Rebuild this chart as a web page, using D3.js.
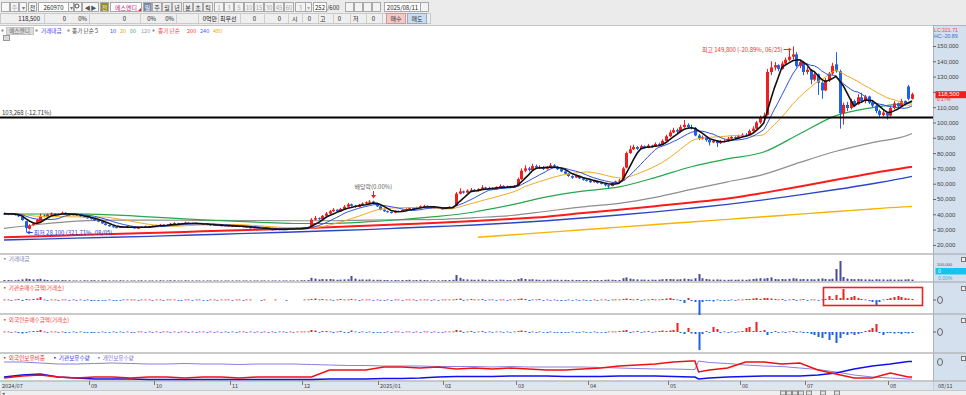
<!DOCTYPE html>
<html>
<head>
<meta charset="utf-8">
<script src="https://cdn.jsdelivr.net/npm/d3@7"></script>
<style>
  body { margin: 0; background: #fff; overflow: hidden; }
  svg { display: block; font-family: "Noto Sans CJK KR", "Noto Sans", sans-serif; }
  .num { font-family: "Liberation Sans", "DejaVu Sans", sans-serif; }
</style>
</head>
<body>
<svg id="chart" width="966" height="395"></svg>
<script>
// 에스엔디 (260970) 일봉, 2024/07 ~ 2025/08/11

// ---- price data (won), one value per trading day ----
const opens = [
  40500,40200,39700,40300,39400,38500,35500,30500,33000,34200,35000,39200,38600,39800,40400,39700,40200,41000,40300,39500,40000,39200,38700,38000,
  37500,37000,36000,35300,34000,33000,32200,31600,31200,31800,31500,32000,31400,31000,31300,31800,32200,31900,
  32400,32800,33200,32600,33000,33800,34200,33500,34000,34500,33800,34300,33600,33900,33200,33500,32800,33100,32500,32800,32300,
  32600,32000,32400,31800,32100,31500,31000,31400,30800,30500,30900,30200,29800,30300,29900,30600,30200,30800,30400,31000,
  30600,31200,31800,36500,37500,36800,39000,40500,42000,43000,41800,43500,45000,46500,45500,44800,46200,47000,47800,48300,47300,
  45200,43000,42000,41500,41000,42200,41800,42800,43500,44000,43600,44500,45200,45500,45000,44200,44600,43800,
  43500,44200,44800,45500,53500,55000,54200,55500,56000,55200,56500,57500,56800,57200,56500,57800,58500,57600,58200,57500,
  58500,63000,68500,70000,69000,71500,70500,71000,69800,70600,72000,71200,69500,68000,66500,65000,64000,65200,63500,62500,
  62000,61000,61800,60500,60000,59000,58500,60500,61500,62000,70500,80000,82500,84000,82800,84500,83500,85000,84200,86000,85200,88000,
  91000,93500,95000,94000,97000,98500,97000,96500,91500,89500,90500,88500,87000,88000,86500,87500,88000,89500,90500,89800,
  91000,92000,91500,94500,96000,100000,103000,105000,133000,136000,137500,135000,138500,141000,143000,144500,137000,139500,
  133000,134500,128000,131500,126000,121000,127500,132000,138000,133500,106000,111500,109500,114000,112000,116500,114000,117000,113000,111000,107500,105000,106500,
  104500,109500,112500,110500,114000,123500,115500
]
const highs = [
  41000,40600,40900,40500,39600,38700,35800,33500,34800,37000,40500,40000,40300,41200,40800,40700,41800,41300,40600,40400,40200,39500,39000,38300,
  37900,37200,36300,35500,34200,33300,32500,31900,32200,32000,32400,32200,31600,31600,32100,32600,32400,32700,
  33200,33700,33400,33400,34300,34800,34400,34400,35200,34700,34600,34500,34200,34000,33800,33600,33400,33200,33100,33000,32900,
  32700,32700,32500,32400,32200,31700,31700,31500,31000,31200,31000,30400,30600,30400,30900,30700,31100,30900,31300,31100,
  31500,32000,37500,39000,38000,39500,41500,42800,44000,43300,44200,46000,47500,47000,46000,46800,47800,48500,49300,48800,47500,
  45400,43300,42500,41800,42600,42500,43200,44000,44600,44300,45000,45800,46200,45800,45200,45000,44800,44100,
  44600,45200,45500,54500,57000,55500,56300,57200,56500,57000,59000,58000,58000,57600,58300,59500,59000,58800,58600,59200,
  64000,70000,72000,71000,73000,72500,72000,71500,71500,73500,72800,71500,70000,68500,67000,65500,66000,65500,64000,63000,
  62500,62500,62000,61000,60300,59500,61000,62000,63000,71000,81000,85000,85500,84500,85500,85000,86000,85500,87000,86800,89000,92000,
  95000,96500,96000,98500,101600,99500,98500,97000,92500,91500,91000,89000,89000,88500,88500,89000,90500,91500,91000,92000,
  93000,93000,95500,97500,101000,104500,106500,135000,140000,139500,138000,140000,142500,147000,149800,146000,141000,140000,
  136500,135000,133000,132000,127000,129000,133000,139000,146000,134500,113000,113500,115500,115000,118500,119500,118000,117500,114000,111500,108500,108000,107000,
  110500,114000,113000,115500,114500,124500,119500
]
const lows = [
  39800,39400,39500,39200,38200,35800,28100,30000,32500,34000,34800,38000,38300,39500,39300,39400,40000,40000,39200,39200,38900,38300,37700,37200,
  36600,35700,34900,33800,32700,31900,31300,30900,31000,31200,31300,31100,30700,30800,31100,31600,31700,31700,
  32200,32600,32400,32400,32900,33600,33300,33300,33800,33600,33600,33400,33400,33000,33000,32600,32600,32300,32300,32100,32100,
  31800,31800,31600,31600,31300,30800,30800,30600,30200,30300,30000,29500,29600,29600,29700,30000,30000,30200,30200,30400,
  30400,31000,31600,36000,36300,36600,38700,40200,41500,41300,41600,43300,44800,45000,44300,44500,45900,46700,47500,47000,44800,
  42600,41600,41000,40500,40800,41500,41600,42600,43200,43300,43400,44300,44900,44700,43900,44000,43500,43200,
  43300,44000,44500,45300,53000,53500,54000,55000,54800,55000,56200,56300,56500,56000,56300,57500,57200,57300,57000,57300,
  58300,62500,67500,68000,68500,70000,69800,69000,69300,70200,70500,69000,67500,66000,64500,63200,63800,63000,62000,61500,
  60500,60700,60000,59500,58200,56800,58300,60200,61200,61800,70000,79500,82000,82000,82500,83000,83200,83500,84000,84800,85000,87500,
  90500,93000,93000,93500,96500,96000,95500,91000,88500,88800,87500,85000,86500,84000,86000,87000,87500,89000,89000,89500,
  90500,90800,91200,94000,95500,99000,102000,104500,131000,134000,133500,134500,137500,140000,141000,136000,135500,131000,
  131500,125000,127000,118000,115500,120500,126500,131000,132500,96000,98500,107500,108500,110500,111500,113000,112500,112000,109500,106000,103000,104000,102000,
  104000,108500,109500,110000,111000,114500,115000
]
const closes = [
  40200,39800,40500,39500,38800,36200,31000,32500,34000,36500,39000,38500,39800,40500,39600,40200,41000,40300,39500,40000,39200,38600,38000,37500,
  37000,36000,35200,34000,33000,32200,31600,31200,31800,31500,32000,31400,31000,31300,31800,32200,31900,32400,
  32800,33200,32600,33000,33800,34200,33500,34000,34500,33800,34300,33600,33900,33200,33500,32800,33100,32500,32800,32300,32600,
  32000,32400,31800,32100,31500,31000,31400,30800,30500,30900,30200,29800,30300,29900,30600,30200,30800,30400,31000,30600,
  31200,31500,36500,37500,36800,39000,40500,42000,43000,41800,43500,45000,46500,45500,44800,46200,47000,47800,48300,47500,45200,
  43000,42000,41500,41000,42200,41800,42800,43500,44000,43600,44500,45200,45500,45000,44200,44600,43800,43500,
  44200,44800,45000,53500,55000,54200,55500,56000,55200,56500,57500,56800,57200,56500,57800,58500,57600,58200,57500,58500,
  63000,68500,70000,69000,71500,70500,71000,69800,70600,72000,71200,69500,68000,66500,65000,64000,65200,63500,62500,62000,
  61000,61800,60500,60000,59000,58500,60500,61500,62000,70000,80000,82500,84000,82800,84500,83500,85000,84200,86000,85200,88000,91000,
  93500,95000,94000,97000,98500,97000,96500,91500,89500,90500,88500,87000,88000,86500,87500,88000,89500,90500,89800,91000,
  92000,91500,94500,96000,100000,103000,104500,133000,136000,137500,135000,138500,141000,143000,144500,137000,139500,133000,
  134500,128000,131500,126000,121000,127500,132000,137000,133500,106000,111500,109500,114000,112000,116500,114000,117000,113000,111000,107500,105000,106500,104500,
  109500,112500,110500,114000,112000,115500,118500
]
// closes before the first visible day (for the short moving averages)
const priorCloses = [41000,40500,40800,41200,40600,40200,39800,40300,40900,41300,40700,40200,40600,41000,40400,40000,40600,40900,40500]

// long moving averages, read every 10 days off the chart
const maDays = [0,10,20,30,40,50,60,70,80,90,100,110,120,130,140,150,160,170,180,190,200,210,220,230,240,250,251]
const ma60  = [40000,40200,40300,39600,38300,37000,35800,34800,34000,34000,35000,36600,38600,41500,46000,51400,55100,57900,64000,71100,76200,80700,92700,104500,109700,112700,112900]
const ma120 = [30800,33500,35500,36200,36200,36100,36000,35900,35800,35800,36200,36400,36700,37800,39200,42000,44900,47200,51100,56300,61200,66100,73900,81200,86900,91800,92800]
const ma200 = [25000,25700,26400,27100,27800,28500,29200,29900,30700,31500,32500,33500,34500,35600,36900,38400,40800,43000,45300,47700,50300,54000,58100,62600,66900,70700,71100]
const ma240 = [23200,23800,24400,25000,25600,26300,27000,27700,28400,29200,30000,31000,32000,33000,34300,35800,37600,39500,41600,44000,46500,49400,52700,56200,60000,64300,64800]
const ma480Days = [131,140,150,160,170,180,190,200,210,220,230,240,250,251]
const ma480 = [25000,26500,28200,29900,31600,33300,35000,36700,38400,40100,41800,43500,45000,45100]

// 거래대금 (억원)
const amounts = [
  5,5,4,4,6,8,12,10,8,9,11,7,5,5,4,4,5,4,4,3,3,3,4,3,
  4,4,3,4,4,3,3,3,4,3,3,3,3,3,4,3,3,3,
  3,4,3,3,4,4,3,3,4,3,3,3,3,3,3,3,3,3,3,3,3,
  3,3,3,3,3,3,3,3,3,3,3,3,3,3,3,3,3,3,3,4,
  4,5,16,12,8,10,9,10,8,6,7,8,9,25,12,7,8,7,8,6,6,
  6,5,5,4,5,4,5,5,6,4,5,6,5,4,4,4,4,4,
  5,5,6,30,16,9,8,7,6,7,8,6,6,5,6,7,6,5,5,6,
  10,14,10,8,9,7,6,6,6,7,6,6,6,6,5,6,5,5,5,5,
  5,5,5,5,6,7,6,5,5,14,18,12,9,8,7,7,6,7,6,7,9,10,
  10,9,8,9,12,10,8,14,35,14,10,8,7,8,7,6,6,7,6,7,
  7,6,8,10,12,14,12,15,18,10,9,10,9,11,14,12,9,10,
  9,9,8,11,13,10,9,11,60,100,20,12,10,9,10,9,8,8,7,9,8,8,7,
  8,7,7,7,8,9,7
]
// 기관 순매수금액 (억원)
const instNet = [
  0.5,0.5,-0.5,0.5,1,-1,1,0.5,1,1.5,3,0.5,-0.5,0.5,0.5,-0.5,0.5,0.5,-0.5,0.5,-0.5,0.5,-0.5,0.5,
  -1,-0.5,-1,-0.5,-0.5,0.5,-0.5,-0.5,-0.5,0.5,0.5,0.5,0.5,-0.5,0.5,0.5,0.5,-0.5,
  0.5,0.5,-0.5,0.5,0.5,0.5,-0.5,-0.5,0.5,0.5,-0.5,0.5,0.5,-0.5,-0.5,0.5,0.5,-0.5,0.5,0.5,0.5,
  -0.5,0.5,0.5,-0.5,0.5,0.5,0,0,-0.5,0.5,0,0,0.5,0,0,-0.5,0,0,0,0,
  0.5,0.5,1,1.5,0.5,1,0.5,0.5,-0.5,0.5,1,0.5,0.5,1,0.5,-0.5,0.5,0.5,0.5,-0.5,0.5,
  -0.5,-0.5,0.5,-0.5,0.5,0.5,-0.5,0.5,0.5,0.5,-0.5,0.5,0.5,0.5,-0.5,0.5,-0.5,0.5,
  0.5,0.5,0.5,1,1.5,-0.5,0.5,1,0.5,0.5,1,-0.5,0.5,0.5,-0.5,0.5,0.5,-0.5,0.5,0.5,
  1,1.5,1,-1,0.5,0.5,1,-0.5,0.5,-0.5,0.5,-0.5,-1,-0.5,0.5,-0.5,0.5,-0.5,0.5,-0.5,
  -0.5,0.5,-0.5,0.5,0.5,-0.5,0.5,0.5,0.5,1,1.5,1,0.5,1,-0.5,0.5,0.5,1,0.5,0.5,1,1.5,
  2,1,0.5,-1,-3,2,-1,-2,-15,-2,-1,-1,-1.5,0.5,-0.5,-1,-0.5,0.5,-0.5,0.5,
  0.5,1,1,1.5,2,1,2,2,1.5,1,0.5,1,-0.5,0.5,1,-0.5,0.5,1,
  -0.5,0.5,0.5,-0.5,0.5,1,4,1,5,2,11,2,3,4,2,1,0.5,-1,-2,-6,-2,0.5,1,
  2,3,4,3,2,1.5,1
]
// 외국인 순매수금액 (억원)
const foreignNet = [
  0.5,0.5,-0.5,0.5,-1,-1.5,-1,0.5,1,1,2,0.5,-0.5,0.5,0.5,-0.5,0.5,-1,-0.5,0.5,-0.5,0.5,-0.5,-0.5,
  -1,-0.5,-0.5,0.5,-0.5,-0.5,0.5,-0.5,0.5,-0.5,0.5,-0.5,-0.5,0.5,0.5,-0.5,0.5,-0.5,
  0.5,-0.5,0.5,0.5,-0.5,0.5,-0.5,0.5,0.5,-0.5,0.5,-0.5,0.5,0.5,-0.5,0.5,-0.5,0.5,-0.5,0.5,-0.5,
  0.5,-0.5,0.5,0.5,-0.5,0.5,-0.5,0.5,-0.5,0.5,-0.5,0.5,-0.5,0.5,0.5,-0.5,0.5,-0.5,0.5,0.5,
  0.5,0.5,2,1.5,-0.5,1,1,0.5,-1,0.5,1,-0.5,-1,1.5,0.5,-0.5,0.5,-0.5,0.5,-1,-0.5,
  -0.5,-0.5,0.5,-0.5,0.5,0.5,-0.5,0.5,0.5,-0.5,0.5,-0.5,0.5,0.5,-0.5,0.5,-0.5,-0.5,
  0.5,0.5,0.5,2,1.5,-0.5,0.5,1,-0.5,0.5,1,-0.5,0.5,-0.5,0.5,0.5,-0.5,0.5,-0.5,0.5,
  1,1.5,1,-1,0.5,-0.5,0.5,-0.5,-1,0.5,-0.5,-0.5,-1,-0.5,-0.5,0.5,-0.5,-0.5,0.5,-0.5,
  -0.5,0.5,-0.5,-0.5,-1,0.5,0.5,0.5,1,1.5,2,-1,0.5,1,-0.5,0.5,1,-0.5,0.5,1,1.5,1,
  1.5,2,9,-1,-2,4,-1.5,-2,-18,-2,1,-0.5,5,3,-1,0.5,-0.5,0.5,-0.5,0.5,
  1,4,5,1,10,1,2,-3,-1,1,-0.5,0.5,-1,0.5,1,-0.5,0.5,-1,
  -1,-2,-3,-5,-6,-2,-8,-3,-11,-6,-2,-3,-1.5,-3,-2,-1,1,2,4,8,-1,-3,-1,
  -1,-1.5,-1,-2,-1,-1.5,-1
]

// holdings, read every 5 days
const holdDays = [0,5,10,15,20,25,30,35,40,45,50,55,60,65,70,75,80,85,90,95,100,105,110,115,120,125,130,135,140,145,150,155,160,165,170,175,180,185,190,191,192,195,200,205,210,215,220,225,230,235,240,245,250,251]
const foreignRatio = [1.2,1.4,1.5,1.3,1.2,1.3,1.3,1.2,1.3,1.3,1.2,1.3,1.3,1.2,1.3,1.3,1.3,1.3,2.0,2.0,2.0,2.3,2.3,2.2,2.3,2.1,2.2,2.1,2.2,2.1,2.0,2.0,2.1,2.2,2.4,2.5,2.6,2.8,2.9,2.9,1.8,2.0,2.2,2.8,2.8,2.6,2.7,2.0,1.6,1.2,1.2,1.7,1.3,1.3]
const instHold = [400,600,700,400,300,200,200,200,150,150,150,150,150,150,150,150,150,150,200,200,200,250,250,300,400,450,450,450,500,500,500,450,450,450,500,500,500,450,400,400,200,300,400,450,500,500,500,600,800,1200,1500,1700,1950,1950]
const indivHold = [13.8,13.8,13.6,13.4,13.4,13.5,13.6,13.5,13.4,13.4,13.5,13.4,13.4,13.3,13.4,13.4,13.4,13.3,13.2,13.1,13.1,13.0,13.0,13.0,12.9,12.9,12.9,12.8,12.9,12.8,12.8,12.8,12.8,12.7,12.6,12.5,12.4,12.4,12.3,12.3,14.0,13.7,13.5,13.2,13.0,12.9,12.6,12.3,11.8,11.2,10.8,10.6,10.4,10.4]

// month ticks
const monthStarts = [0,24,42,63,83,104,122,142,162,184,204,222,245]
const monthLabels = ['2024/07','09','10','11','12','2025/01','02','03','04','05','06','07','08']
// 120,000 sits under the current-price box, so it gets a tick but no label
const priceTicks = [20000,30000,40000,50000,60000,70000,80000,90000,100000,110000,120000,130000,140000,150000]

const lineLevel = 103268
const lastPrice = 118500
const lowIdx = 6, highIdx = 218, exDivIdx = 102

// ---- colors ----
var colorUp = '#f21d1d'
var colorDown = '#1f61e4'
var colorAxisBg = '#d4e0ed'

const svg = d3.select('#chart')
const W = 966, H = 395
const plotR = 933

// ---- scales ----
const x = d3.scaleLinear().domain([0, closes.length - 1]).range([4, 912])
const y = d3.scaleLinear().domain([20000, 150000]).range([244.9, 46])
const px = i => Math.round(x(i)) + 0.5

function txt(g, tx, ty, s, color, size, anchor) {
  return g.append('text').attr('x', tx).attr('y', ty).text(s)
    .attr('fill', color || '#333').attr('font-size', size || 6)
    .attr('text-anchor', anchor || 'start')
}
function box(g, bx, by, w, h, fill, stroke) {
  return g.append('rect').attr('x', bx + 0.5).attr('y', by + 0.5)
    .attr('width', w).attr('height', h)
    .attr('fill', fill).attr('stroke', stroke || 'none').attr('stroke-width', 1)
}

// ---------- header ----------
const head = svg.append('g')
box(head, -1, -1, W + 2, 26, '#ebebeb', '#c4c4c4')

const row1 = [
  ['', 1, 8, '#f7f7f7', '#666'], ['주', 10, 8, '#f7f7f7', '#aaa'], ['▾', 19, 7, '#f7f7f7', '#777'],
  ['전', 28, 8, '#f7f7f7', '#333'], ['260970', 38, 30, '#fff', '#222'], ['▾', 68, 5, '#f7f7f7', '#777'],
  ['', 74, 7, '#f7f7f7', '#666'], ['◀▶', 82, 16, '#f7f7f7', '#555'], ['전', 100, 8, '#8f8d2d', '#f5f1c4'],
  ['에스엔디', 110, 31, '#fff', '#c0287e'], ['일', 143, 8, '#7489aa', '#fff'],
  ['주', 152, 9, '#eeeeee', '#333'], ['월', 162, 9, '#eeeeee', '#333'], ['년', 172, 9, '#eeeeee', '#333'],
  ['분', 183, 9, '#eeeeee', '#333'], ['초', 193, 9, '#eeeeee', '#333'], ['틱', 203, 9, '#eeeeee', '#333'],
  ['1', 214, 9, '#f3f3f3', '#aaa'], ['3', 224, 9, '#f3f3f3', '#aaa'], ['5', 234, 9, '#f3f3f3', '#aaa'],
  ['10', 244, 9, '#f3f3f3', '#aaa'], ['15', 254, 9, '#f3f3f3', '#aaa'], ['30', 264, 9, '#f3f3f3', '#aaa'],
  ['45', 274, 9, '#f3f3f3', '#aaa'], ['60', 284, 9, '#f3f3f3', '#aaa'], ['3', 295, 10, '#f3f3f3', '#aaa'],
  ['▾', 305, 6, '#f3f3f3', '#aaa'], ['252', 313, 13, '#fff', '#222'],
  ['', 345, 8, '#f3f3f3', '#666'], ['', 354, 8, '#f3f3f3', '#666'], ['', 363, 8, '#f3f3f3', '#666'], ['', 372, 8, '#f3f3f3', '#666'],
  ['2025/08/11', 384, 36, '#fff', '#222'], ['', 420, 8, '#f3f3f3', '#666']
]
row1.forEach(function(b) {
  box(head, b[1], 2, b[2], 9, b[3], '#a9a9a9')
  txt(head, b[1] + b[2] / 2 + 0.5, 9.5, b[0], b[4], 6, 'middle')
})
txt(head, 327, 9.5, '/600', '#333', 6)
head.append('circle').attr('cx', 77).attr('cy', 6).attr('r', 2).attr('fill', 'none').attr('stroke', '#555')
head.append('path').attr('d', 'M138,11 L141,11 L141,8 Z').attr('fill', '#e02020')

// quote row
box(head, 0, 13, 430, 10, '#efefef', '#c9c9c9')
;[44, 89, 140, 176, 198, 218, 240, 264, 288, 302, 318, 333, 350, 366, 382].forEach(function(sx) {
  head.append('line').attr('x1', sx + 0.5).attr('x2', sx + 0.5).attr('y1', 13).attr('y2', 23).attr('stroke', '#cfcfcf')
})
const row2 = [['118,500', 40, 'end'], ['0', 66, 'end'], ['0%', 87, 'end'], ['0', 126, 'end'], ['0%', 156, 'end'],
  ['0%', 174, 'end'], ['0억만', 217, 'end'], ['최우선', 220, 'start'], ['0', 256, 'end'], ['0', 281, 'end'],
  ['시', 292, 'start'], ['0', 311, 'end'], ['고', 320, 'start'], ['0', 341, 'end'], ['저', 353, 'start'], ['0', 375, 'end']]
row2.forEach(function(t) { txt(head, t[1], 20.5, t[0], '#222', 6, t[2]) })
box(head, 386, 13, 19, 10, '#f5c8c8', '#c99')
txt(head, 396, 20.5, '매수', '#333', 6, 'middle')
box(head, 407, 13, 19, 10, '#c8ddf3', '#9ab')
txt(head, 417, 20.5, '매도', '#333', 6, 'middle')

// legend row
const leg = svg.append('g')
box(leg, 1, 29, 2, 2, '#888')
box(leg, 6, 27, 27, 7, '#dcdcdc', '#c4c4c4')
txt(leg, 19.5, 33, '에스엔디', '#666', 5.6, 'middle')
box(leg, 35, 29, 2, 2, '#888')
txt(leg, 41, 33, '거래대금', '#3a3af0', 5.6)
box(leg, 67, 29, 2, 2, '#888')
txt(leg, 72, 33, '종가 단순 5', '#444', 5.6)
txt(leg, 110, 33, '10', '#2b55ff', 5.6)
txt(leg, 120, 33, '20', '#f0a020', 5.6)
txt(leg, 130, 33, '60', '#3bb060', 5.6)
txt(leg, 141, 33, '120', '#999', 5.6)
box(leg, 152, 29, 2, 2, '#888')
txt(leg, 158, 33, '종가 단순', '#ff3b3b', 5.6)
txt(leg, 187, 33, '200', '#ff3b3b', 5.6)
txt(leg, 200, 33, '240', '#5060ff', 5.6)
txt(leg, 213, 33, '480', '#f0b000', 5.6)
box(leg, 3, 35, 6, 5, '#d8d8d8', '#999')

// ---------- right axis column + panel frames ----------
box(svg, plotR, 25, W - plotR, 365, colorAxisBg, '#a7b4c4')
box(svg, 0, 381, plotR, 9, '#dde5ef')
const seps = [254, 282, 314, 353, 381]
seps.forEach(function(sy) {
  svg.append('line').attr('x1', 0).attr('x2', W).attr('y1', sy).attr('y2', sy)
    .attr('stroke', '#b9b9b9').attr('stroke-width', 1.6)
})
;[257, 286, 318, 356].forEach(function(sy) { box(svg, 961, sy, 4, 4, '#eee', '#777') })

// ---------- main price panel ----------
const main = svg.append('g')

// long moving averages
function sampledLine(days, vals, color, width) {
  main.append('path')
    .datum(d3.zip(days, vals))
    .attr('d', d3.line().x(d => x(d[0])).y(d => y(d[1])).curve(d3.curveMonotoneX))
    .attr('fill', 'none').attr('stroke', color).attr('stroke-width', width)
}
sampledLine(ma480Days, ma480, '#f6b400', 1.4)
sampledLine(maDays, ma240, '#2a46c8', 1.4)
sampledLine(maDays, ma200, '#ff1a1a', 2)
sampledLine(maDays, ma120, '#8e8e8e', 1.2)
sampledLine(maDays, ma60, '#24a84a', 1.2)

// candles
const candles = main.append('g')
closes.forEach(function(c, i) {
  const o = opens[i]
  const col = c >= o ? colorUp : colorDown
  candles.append('line')
    .attr('x1', px(i)).attr('x2', px(i)).attr('y1', y(highs[i])).attr('y2', y(lows[i]))
    .attr('stroke', col).attr('stroke-width', 1)
  const top = y(Math.max(o, c)), bot = y(Math.min(o, c))
  candles.append('rect')
    .attr('x', px(i) - 1.5).attr('y', top)
    .attr('width', 3).attr('height', Math.max(1, bot - top))
    .attr('fill', col)
})

// short moving averages from closes
function movingAverage(n) {
  const all = priorCloses.concat(closes)
  const off = priorCloses.length
  return closes.map((c, i) => d3.mean(all.slice(off + i - n + 1, off + i + 1)))
}
const dailyLine = d3.line().x((d, i) => x(i)).y(d => y(d))
;[[20, '#f3a81e', 1], [10, '#2f50d8', 1], [5, '#111', 1.6]].forEach(function(m) {
  main.append('path').datum(movingAverage(m[0]))
    .attr('d', dailyLine).attr('fill', 'none').attr('stroke', m[1]).attr('stroke-width', m[2])
})

// horizontal level line
main.append('line').attr('x1', 0).attr('x2', plotR).attr('y1', y(lineLevel)).attr('y2', y(lineLevel))
  .attr('stroke', '#000').attr('stroke-width', 1.8)
txt(main, 2, y(lineLevel) - 2, d3.format(',')(lineLevel) + ' (-12.71%)', '#333', 6)

// annotations
const hx = x(highIdx)
txt(main, hx - 10, 51.5, '최고 149,800 (-20.89%, 06/25)', '#f03030', 6, 'end')
main.append('line').attr('x1', hx - 9).attr('x2', hx - 2).attr('y1', 49.5).attr('y2', 49.5).attr('stroke', '#f03030')
main.append('path').attr('d', `M${hx - 1},49.5 l-3,-2 l0,4 Z`).attr('fill', '#f03030')

const lx = x(lowIdx)
main.append('line').attr('x1', lx + 2).attr('x2', lx + 7).attr('y1', y(28100)).attr('y2', y(28100)).attr('stroke', '#2440d8')
main.append('path').attr('d', `M${lx + 1},${y(28100)} l3,-2 l0,4 Z`).attr('fill', '#2440d8')
txt(main, lx + 8, y(28100) + 2, '최저 28,100 (321.71%, 08/05)', '#2440d8', 6)

const ex = px(exDivIdx)
txt(main, ex - 19, 189, '배당락(0.00%)', '#666', 6)
main.append('line').attr('x1', ex).attr('x2', ex).attr('y1', 191).attr('y2', 196).attr('stroke', '#f02020')
main.append('path').attr('d', `M${ex - 2.5},195 l5,0 l-2.5,3.5 Z`).attr('fill', '#f02020')

// right price axis
const axisG = svg.append('g').attr('transform', `translate(${plotR},0)`)
  .call(d3.axisRight(y).tickValues(priceTicks).tickSize(3)
    .tickFormat(d => d === 120000 ? '' : d3.format(',')(d)))
axisG.select('.domain').remove()
axisG.selectAll('line').attr('stroke', '#667')
axisG.selectAll('text').attr('font-size', 6).attr('fill', '#444').attr('x', 4)
  .attr('font-family', '"Liberation Sans", "DejaVu Sans", sans-serif')

txt(svg, 934, 31.5, 'LC:321.71', '#e84a4a', 5.2).attr('class', 'num')
txt(svg, 934, 38, 'HC:-20.89', '#3a6ad8', 5.2).attr('class', 'num')
box(svg, 935, y(lastPrice) - 3.5, 31, 7, '#f21d1d')
txt(svg, 938, y(lastPrice) + 2.2, d3.format(',')(lastPrice), '#fff', 6).attr('class', 'num')
txt(svg, 937, y(lastPrice) + 7.2, '0.17%', '#e83030', 4.8).attr('class', 'num')

// ---------- 거래대금 panel ----------
const volY = d3.scaleLinear().domain([0, 100]).range([281, 261])
const vol = svg.append('g')
txt(vol, 2, 261, '▪ 거래대금', '#7b7bb0', 5.6)
vol.selectAll('rect').data(amounts).join('rect')
  .attr('x', (d, i) => px(i) - 1).attr('width', 2)
  .attr('y', d => volY(d)).attr('height', d => volY(0) - volY(d))
  .attr('fill', '#4b4b98')
txt(vol, 937, 266, '100,000', '#555', 4.2).attr('class', 'num')
box(vol, 935, 267.5, 31, 6.5, '#12c4f2')
txt(vol, 938, 272.8, '0', '#fff', 5).attr('class', 'num')
txt(vol, 938, 279.5, '0.00%', '#12b4e8', 5).attr('class', 'num')

// ---------- net buy panels ----------
function netPanel(vals, domain, range, label, labelY) {
  const sy = d3.scaleLinear().domain(domain).range(range)
  const g = svg.append('g')
  txt(g, 2, labelY, label, '#f04040', 5.6)
  g.selectAll('rect').data(vals).join('rect')
    .attr('x', (d, i) => px(i) - 1).attr('width', 2)
    .attr('y', d => Math.min(sy(d), sy(0)))
    .attr('height', d => Math.max(0.8, Math.abs(sy(d) - sy(0))))
    .attr('fill', d => d >= 0 ? colorUp : colorDown)
    .attr('opacity', d => d === 0 ? 0 : 1)
  g.append('line').attr('x1', plotR).attr('x2', plotR + 3).attr('y1', sy(0)).attr('y2', sy(0)).attr('stroke', '#667')
  g.append('ellipse').attr('cx', 940).attr('cy', sy(0)).attr('rx', 2.5).attr('ry', 3.5)
    .attr('fill', 'none').attr('stroke', '#666')
  return g
}
netPanel(instNet, [-16, 13], [316, 287], '▪ 기관순매수금액(거래소)', 290)
netPanel(foreignNet, [-20, 15], [352, 317], '▪ 외국인순매수금액(거래소)', 322)

// highlight box
svg.append('rect').attr('x', 823.5).attr('y', 287.5).attr('width', 99).attr('height', 18)
  .attr('fill', 'none').attr('stroke', '#f02020').attr('stroke-width', 1.6)

// ---------- holdings panel ----------
const hold = svg.append('g')
txt(hold, 2, 360, '▪ 외국인보유비중', '#f03030', 5.6)
txt(hold, 52, 360, '▪ 기관보유수량', '#3030f0', 5.6)
txt(hold, 96, 360, '▪ 개인보유수량', '#7c6cd4', 5.6)
function holdLine(vals, domain, color, width) {
  const sy = d3.scaleLinear().domain(domain).range([381, 356])
  hold.append('path').datum(d3.zip(holdDays, vals))
    .attr('d', d3.line().x(d => x(d[0])).y(d => sy(d[1])))
    .attr('fill', 'none').attr('stroke', color).attr('stroke-width', width)
}
holdLine(indivHold, [10, 15], '#8a7ee0', 1)
holdLine(instHold, [0, 2500], '#1010f0', 1.5)
holdLine(foreignRatio, [0.9, 3.4], '#f01010', 1.5)
hold.append('ellipse').attr('cx', 940).attr('cy', 362).attr('rx', 2.5).attr('ry', 3.5)
  .attr('fill', 'none').attr('stroke', '#666')

// ---------- date axis ----------
const xa = svg.append('g')
monthStarts.forEach(function(m, k) {
  const mx = Math.round(x(m) - 2) + 0.5
  if (k > 0) xa.append('line').attr('x1', mx).attr('x2', mx).attr('y1', 381).attr('y2', 385).attr('stroke', '#777')
  txt(xa, k === 0 ? 2 : mx + 1.5, 387.5, monthLabels[k], '#444', 5.6)
})
txt(xa, 938, 387.5, '08/11', '#444', 5.6)

// scroll bar row
box(svg, 0, 390, W, 6, '#efefef', '#c8c8c8')
txt(svg, 2, 395, '◂', '#555', 5)
;[780, 786, 792, 798, 806, 820, 834].forEach(function(bx) { box(svg, bx, 390.5, 5, 4, '#e4e4e4', '#888') })
</script>
</body>
</html>
